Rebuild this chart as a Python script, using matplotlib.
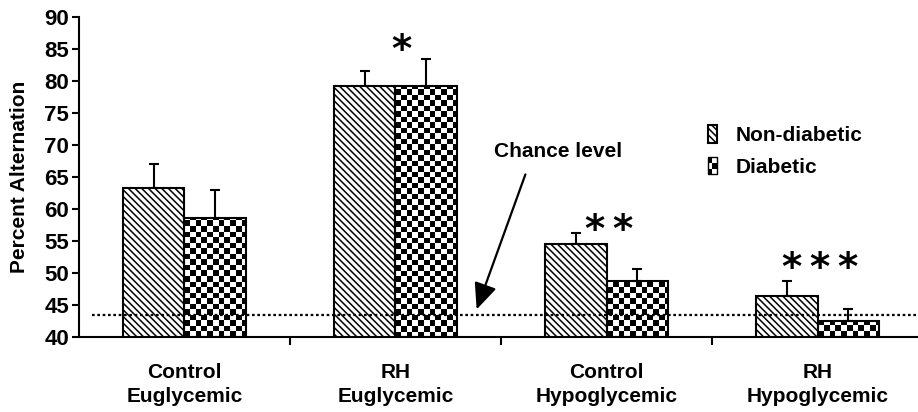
import matplotlib.pyplot as plt
import numpy as np
from matplotlib.patches import Rectangle
from matplotlib.legend_handler import HandlerBase

plt.rcParams['font.family'] = ['Liberation Sans', 'DejaVu Sans']
plt.rcParams['hatch.linewidth'] = 1.1

# data
groups = ["Control\nEuglycemic", "RH\nEuglycemic", "Control\nHypoglycemic", "RH\nHypoglycemic"]
non_diabetic = [63.3, 79.2, 54.6, 46.4]
non_diabetic_err = [3.7, 2.4, 1.6, 2.4]
diabetic = [58.6, 79.2, 48.7, 42.5]
diabetic_err = [4.3, 4.3, 2.0, 1.9]
stars = ["", "*", "**", "***"]
chance = 43.5


class CheckerHandler(HandlerBase):
    def create_artists(self, legend, orig, xd, yd, w, h, fs, trans):
        arts = []
        cw, ch = w / 2, h / 3
        for i in range(3):
            for j in range(2):
                c = 'black' if (i + j) % 2 == 0 else 'white'
                arts.append(Rectangle((j * cw - xd, i * ch - yd), cw, ch, facecolor=c,
                                      edgecolor='none', transform=trans))
        arts.append(Rectangle((-xd, -yd), w, h, facecolor='none', edgecolor='black',
                              lw=1, transform=trans))
        return arts


def checker(ax, bar, cw=0.027, ch=0.86):
    x0, y0 = bar.get_x(), bar.get_y()
    w, h = bar.get_width(), bar.get_height()
    nx = int(np.ceil(w / cw))
    ny = int(np.ceil(h / ch))
    grid = np.add.outer(np.arange(ny), np.arange(nx)) % 2
    im = ax.imshow(grid, cmap='gray', extent=(x0, x0 + nx * cw, y0, y0 + ny * ch),
                   origin='lower', interpolation='nearest', aspect='auto', zorder=2)
    im.set_clip_path(bar)


fig = plt.figure(figsize=(9.18, 4.12), dpi=100)
ax = fig.add_axes([0.086, 0.182, 0.914, 0.777])

x = np.arange(len(groups))
bw = 0.29
base = 40

b1 = ax.bar(x - bw / 2, np.array(non_diabetic) - base, bw, bottom=base, facecolor='white',
            edgecolor='black', lw=1.5, hatch='\\' * 5, zorder=3)
b2 = ax.bar(x + bw / 2, np.array(diabetic) - base, bw, bottom=base, fill=False,
            edgecolor='black', lw=1.5, zorder=3)
for b in b2:
    checker(ax, b)

ax.errorbar(x - bw / 2, non_diabetic, yerr=[np.zeros(4), non_diabetic_err], fmt='none',
            ecolor='black', elinewidth=1.5, capsize=3.5, capthick=1.5, zorder=2.5)
ax.errorbar(x + bw / 2, diabetic, yerr=[np.zeros(4), diabetic_err], fmt='none',
            ecolor='black', elinewidth=1.5, capsize=3.5, capthick=1.5, zorder=2.5)

# significance stars
star_y = [0, 84.6, 56.6, 50.7]
for xi, s, sy in zip(x, stars, star_y):
    if s:
        ax.text(xi + (0.03 if len(s) == 1 else 0.01), sy, "\u2009".join(s), ha='center',
                va='center', fontsize=28, family='DejaVu Sans', fontweight='bold')

ax.axhline(chance, xmin=0.016, xmax=1, color='black', ls=(0, (1.2, 1.2)), lw=1.6, zorder=4)
ax.annotate("", xy=(1.38, 43.9), xytext=(1.62, 65.8),
            arrowprops=dict(arrowstyle='-|>,head_length=1.6,head_width=0.7',
                            color='black', lw=1.6))
ax.text(1.77, 68.9, "Chance level", ha='center', va='center', fontsize=15, fontweight='bold')

leg = ax.legend([b1[0], b2[0]], ["Non-diabetic", "Diabetic"], loc='upper left',
                bbox_to_anchor=(0.727, 0.72), frameon=False,
                prop={'weight': 'bold', 'size': 15},
                handler_map={b2[0]: CheckerHandler()},
                handlelength=0.45, handleheight=0.9, handletextpad=0.9, labelspacing=0.58)

ax.set_xlim(-0.5, 3.476)
ax.set_ylim(40, 90)
ax.set_yticks(np.arange(40, 91, 5))
ax.set_yticklabels([str(v) for v in range(40, 91, 5)], fontsize=16, fontweight='bold')
ax.set_xticks([0.5, 1.5, 2.5])
ax.set_xticklabels([])
ax.set_xticks(x, minor=True)
ax.set_xticklabels(groups, minor=True, fontsize=15, fontweight='bold', linespacing=1.3)
ax.tick_params(axis='x', which='minor', length=0, pad=19)
ax.tick_params(axis='x', which='major', length=6, width=1.5, direction='out')
ax.tick_params(axis='y', length=5, width=1.5, direction='out', pad=2)
ax.set_ylabel("Percent Alternation", fontsize=15, fontweight='bold', labelpad=11)
for s in ['top', 'right']:
    ax.spines[s].set_visible(False)
for s in ['left', 'bottom']:
    ax.spines[s].set_linewidth(1.5)

fig.savefig("out.png", dpi=100)
